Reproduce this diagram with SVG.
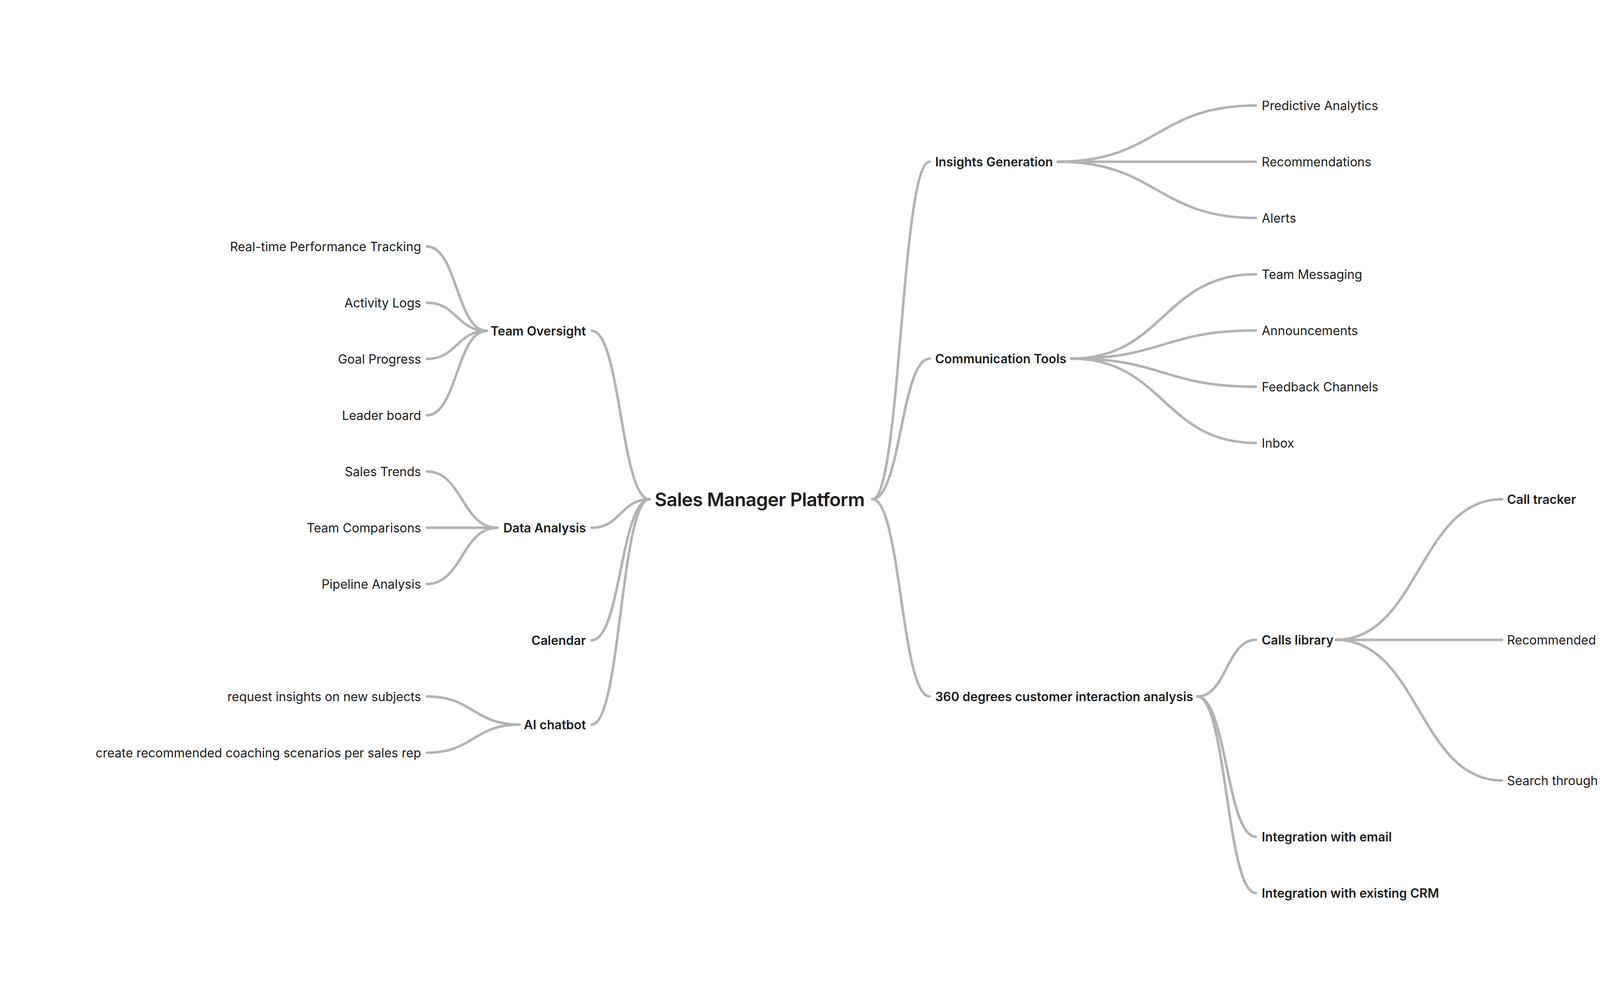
<svg xmlns="http://www.w3.org/2000/svg" width="5573" height="2560" viewBox="0 0 5573 2560">
<style>
text{font-family:Inter,"Noto Sans","Liberation Sans",sans-serif;fill:#1c1c1c}
.r{font-size:32px;font-weight:400}
.b{font-size:32px;font-weight:600}
.root{font-size:48px;font-weight:600;letter-spacing:-0.7px}
.e{text-anchor:end}
#connectors path{fill:none;stroke:#b3b3b3;stroke-width:6.5;stroke-linecap:round}
</style>
<rect width="5573" height="2560" fill="#ffffff"/>
<g id="connectors">
<path d="M2233 1278 C2306.5 1278 2306.5 414 2380 414"/>
<path d="M2233 1278 C2306.5 1278 2306.5 918 2380 918"/>
<path d="M2233 1278 C2306.5 1278 2306.5 1783 2380 1783"/>
<path d="M1663 1278 C1589 1278 1589 847 1515 847"/>
<path d="M1663 1278 C1589 1278 1589 1351 1515 1351"/>
<path d="M1663 1278 C1589 1278 1589 1639 1515 1639"/>
<path d="M1663 1278 C1589 1278 1589 1855 1515 1855"/>
<path d="M2708 414 C2961.5 414 2961.5 270 3215 270"/>
<path d="M2708 414 C2961.5 414 2961.5 414 3215 414"/>
<path d="M2708 414 C2961.5 414 2961.5 558 3215 558"/>
<path d="M2742 918 C2978.5 918 2978.5 702 3215 702"/>
<path d="M2742 918 C2978.5 918 2978.5 846 3215 846"/>
<path d="M2742 918 C2978.5 918 2978.5 990 3215 990"/>
<path d="M2742 918 C2978.5 918 2978.5 1134 3215 1134"/>
<path d="M3065 1783 C3140 1783 3140 1638 3215 1638"/>
<path d="M3065 1783 C3140 1783 3140 2142 3215 2142"/>
<path d="M3065 1783 C3140 1783 3140 2286 3215 2286"/>
<path d="M3420 1638 C3632.5 1638 3632.5 1278 3845 1278"/>
<path d="M3420 1638 C3632.5 1638 3632.5 1638 3845 1638"/>
<path d="M3420 1638 C3632.5 1638 3632.5 1998 3845 1998"/>
<path d="M4600 1638 C4676 1638 4676 1422 4752 1422"/>
<path d="M4600 1638 C4676 1638 4676 1566 4752 1566"/>
<path d="M4600 1638 C4676 1638 4676 1710 4752 1710"/>
<path d="M4600 1638 C4676 1638 4676 1854 4752 1854"/>
<path d="M1246 847 C1169.5 847 1169.5 631 1093 631"/>
<path d="M1246 847 C1169.5 847 1169.5 775 1093 775"/>
<path d="M1246 847 C1169.5 847 1169.5 919 1093 919"/>
<path d="M1246 847 C1169.5 847 1169.5 1063 1093 1063"/>
<path d="M1273 1351 C1183 1351 1183 1207 1093 1207"/>
<path d="M1273 1351 C1183 1351 1183 1351 1093 1351"/>
<path d="M1273 1351 C1183 1351 1183 1495 1093 1495"/>
<path d="M1330 1855 C1211.5 1855 1211.5 1783 1093 1783"/>
<path d="M1330 1855 C1211.5 1855 1211.5 1927 1093 1927"/>
</g>
<g id="root"><text class="root" x="1676" y="1295.5">Sales Manager Platform</text></g>
<g id="insights"><text class="b" x="2394" y="425.6">Insights Generation</text></g>
<g id="predictive"><text class="r" x="3230" y="281.6">Predictive Analytics</text></g>
<g id="recommendations"><text class="r" x="3230" y="425.6">Recommendations</text></g>
<g id="alerts"><text class="r" x="3230" y="569.6">Alerts</text></g>
<g id="communication"><text class="b" x="2394" y="929.6">Communication Tools</text></g>
<g id="team-messaging"><text class="r" x="3230" y="713.6">Team Messaging</text></g>
<g id="announcements"><text class="r" x="3230" y="857.6">Announcements</text></g>
<g id="feedback"><text class="r" x="3230" y="1001.6">Feedback Channels</text></g>
<g id="inbox"><text class="r" x="3230" y="1145.6">Inbox</text></g>
<g id="interaction360"><text class="b" x="2394" y="1794.6">360 degrees customer interaction analysis</text></g>
<g id="calls-library"><text class="b" x="3230" y="1649.6">Calls library</text></g>
<g id="call-tracker"><text class="b" x="3858" y="1289.6">Call tracker</text></g>
<g id="recommended-calls"><text class="r" x="3858" y="1649.6">Recommended calls to listen to with examples of</text></g>
<g id="best-pitches"><text class="r" x="4765" y="1433.6">best sales pitches</text></g>
<g id="objections"><text class="r" x="4765" y="1577.6">overcoming objections</text></g>
<g id="challenging"><text class="r" x="4765" y="1721.6">challenging client scenarios</text></g>
<g id="product-knowledge"><text class="r" x="4765" y="1865.6">exemplary use of product knowledge</text></g>
<g id="search-calls"><text class="r" x="3858" y="2009.6">Search through calls using keywords</text></g>
<g id="integration-email"><text class="b" x="3230" y="2153.6">Integration with email</text></g>
<g id="integration-crm"><text class="b" x="3230" y="2297.6">Integration with existing CRM</text></g>
<g id="team-oversight"><text class="b e" x="1500" y="858.6">Team Oversight</text></g>
<g id="realtime"><text class="r e" x="1078" y="642.6">Real-time Performance Tracking</text></g>
<g id="activity-logs"><text class="r e" x="1078" y="786.6">Activity Logs</text></g>
<g id="goal-progress"><text class="r e" x="1078" y="930.6">Goal Progress</text></g>
<g id="leader-board"><text class="r e" x="1078" y="1074.6">Leader board</text></g>
<g id="data-analysis"><text class="b e" x="1500" y="1362.6">Data Analysis</text></g>
<g id="sales-trends"><text class="r e" x="1078" y="1218.6">Sales Trends</text></g>
<g id="team-comparisons"><text class="r e" x="1078" y="1362.6">Team Comparisons</text></g>
<g id="pipeline"><text class="r e" x="1078" y="1506.6">Pipeline Analysis</text></g>
<g id="calendar"><text class="b e" x="1500" y="1650.6">Calendar</text></g>
<g id="ai-chatbot"><text class="b e" x="1500" y="1866.6">AI chatbot</text></g>
<g id="request-insights"><text class="r e" x="1078" y="1794.6">request insights on new subjects</text></g>
<g id="coaching"><text class="r e" x="1078" y="1938.6">create recommended coaching scenarios per sales rep</text></g>
</svg>
